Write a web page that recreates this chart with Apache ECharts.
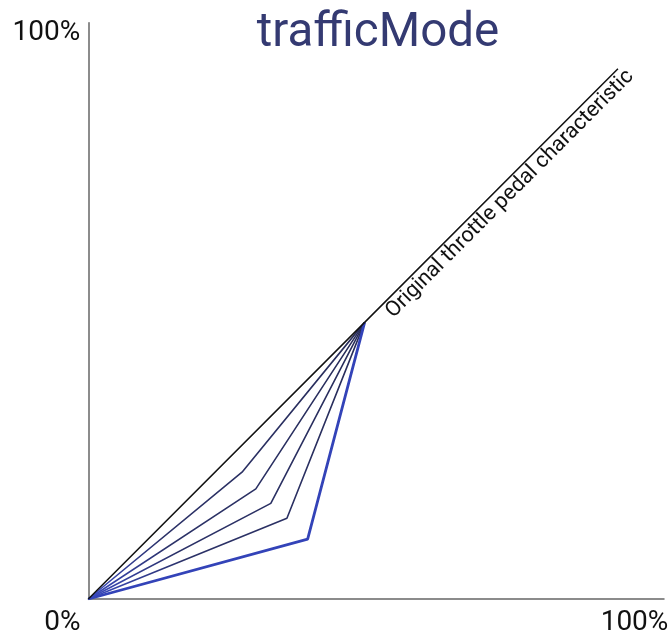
<!DOCTYPE html>
<html>
<head>
<meta charset="utf-8">
<script src="https://cdn.jsdelivr.net/npm/echarts@6/dist/echarts.min.js"></script>
<style>
html,body{margin:0;padding:0;background:#fff;}
#chart{width:672px;height:637px;}
</style>
</head>
<body>
<div id="chart"></div>
<script>
const titleText = 'trafficMode';
const diagonalLabel = 'Original throttle pedal characteristic';
const diagonalX = [0, 48, 92];
const diagonalY = [0, 48, 92];
const originPoint = [0, 0];
const convergePoint = [48, 48];
const kneeX = [26.7, 29.1, 31.7, 34.5, 38.1];
const kneeY = [22.0, 19.1, 16.6, 14.0, 10.4];
const tickValues = [0, 100];
const xTickLabels = ['0%', '100%'];
const yTickLabels = ['', '100%'];

const chart = echarts.init(document.getElementById('chart'));

const thinGradient = new echarts.graphic.LinearGradient(0, 1, 1, 0, [
  {offset: 0, color: '#3b4cc6'},
  {offset: 0.25, color: '#2c3268'},
  {offset: 1, color: '#282d5a'}
]);

const series = [];
series.push({
  type: 'line',
  data: diagonalX.map((x, i) => [x, diagonalY[i]]),
  symbol: 'none',
  lineStyle: {color: '#111111', width: 1.5},
  z: 3,
  markLine: {
    silent: true,
    symbol: 'none',
    animation: false,
    lineStyle: {color: 'rgba(0,0,0,0)', width: 0, type: 'solid'},
    label: {
      show: true,
      position: 'insideStartBottom',
      distance: [23, 1],
      formatter: diagonalLabel,
      fontFamily: 'Roboto',
      fontSize: 21.5,
      color: '#111111',
      opacity: 1
    },
    data: [[{coord: convergePoint}, {coord: [diagonalX[2], diagonalY[2]]}]]
  }
});
kneeX.forEach((kx, i) => {
  const last = i === kneeX.length - 1;
  series.push({
    type: 'line',
    data: [originPoint, [kx, kneeY[i]], convergePoint],
    symbol: 'none',
    lineStyle: last ? {color: '#3343b8', width: 2.8} : {color: thinGradient, width: 1.6},
    z: 2
  });
});

chart.setOption({
  animation: false,
  backgroundColor: '#ffffff',
  title: {
    text: titleText,
    left: 373,
    top: 5,
    textAlign: 'center',
    textStyle: {fontFamily: 'Roboto', fontSize: 47.5, fontWeight: 'normal', color: '#343a72'}
  },
  grid: {left: 88.3, right: 8, top: 22.7, bottom: 38, containLabel: false},
  xAxis: {
    type: 'value', min: tickValues[0], max: tickValues[1], interval: 100,
    axisLine: {show: true, lineStyle: {color: '#666666', width: 1.5}},
    axisTick: {show: false},
    splitLine: {show: false},
    axisLabel: {
      margin: 10,
      formatter: v => v === tickValues[0] ? '{a|' + xTickLabels[0] + '}' : '{b|' + xTickLabels[1] + '}',
      rich: {
        a: {fontFamily: 'Roboto', fontSize: 28, color: '#111111', padding: [0, 52, 0, 0]},
        b: {fontFamily: 'Roboto', fontSize: 28, color: '#111111', padding: [0, 59, 0, 0]}
      }
    }
  },
  yAxis: {
    type: 'value', min: tickValues[0], max: tickValues[1], interval: 100,
    axisLine: {show: true, lineStyle: {color: '#666666', width: 1.5}},
    axisTick: {show: false},
    splitLine: {show: false},
    axisLabel: {
      margin: 8,
      formatter: v => v === tickValues[1] ? '{c|' + yTickLabels[1] + '}' : yTickLabels[0],
      rich: {
        c: {fontFamily: 'Roboto', fontSize: 28, color: '#111111', padding: [21, 0, 0, 0]}
      }
    }
  },
  series: series
});
</script>
</body>
</html>
